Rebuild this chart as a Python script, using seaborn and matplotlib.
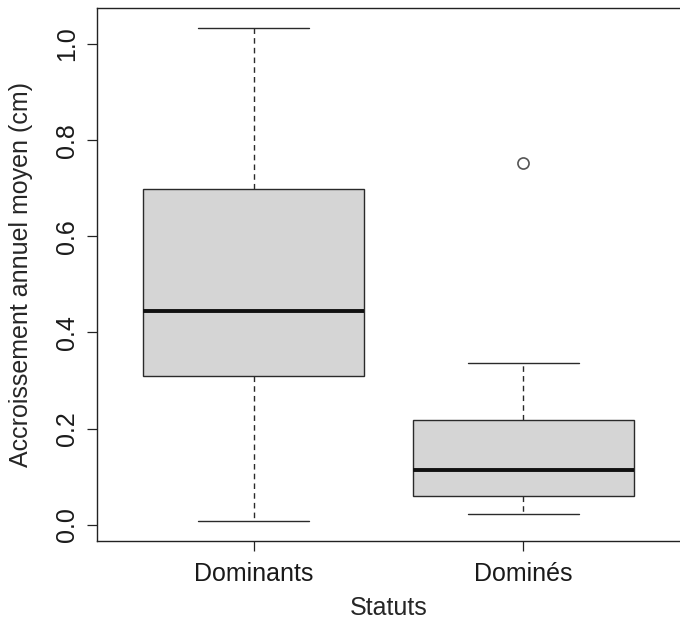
import matplotlib
matplotlib.use("Agg")
import matplotlib.pyplot as plt
import seaborn as sns
import pandas as pd

categories = ["Dominants", "Dominés"]
dominants_values = [0.007, 0.309, 0.444, 0.699, 1.034]
domines_values = [0.023, 0.060, 0.060, 0.114, 0.114, 0.218, 0.218, 0.337, 0.753]
y_ticks = [0.0, 0.2, 0.4, 0.6, 0.8, 1.0]
y_tick_labels = ["0.0", "0.2", "0.4", "0.6", "0.8", "1.0"]
x_label = "Statuts"
y_label = "Accroissement annuel moyen (cm)"

df = pd.DataFrame({
    "Statuts": [categories[0]] * len(dominants_values) + [categories[1]] * len(domines_values),
    "value": dominants_values + domines_values,
})

sns.set_style("ticks")
plt.rcParams["font.family"] = ["Liberation Sans", "DejaVu Sans"]
plt.rcParams["font.size"] = 18

fig = plt.figure(figsize=(6.8, 6.28), dpi=100)
ax = fig.add_axes([97 / 680, 1 - 541 / 628, 1 - 97 / 680, 533 / 628])

edge = "#2a2a2a"
sns.boxplot(
    data=df, x="Statuts", y="value", order=categories, ax=ax,
    color="#d5d5d5", saturation=1, linecolor=edge, linewidth=1.0,
    width=0.82, whis=1.5,
    medianprops=dict(color="#111111", linewidth=2.8),
    whiskerprops=dict(linestyle=(0, (4, 3)), color=edge, linewidth=1.0),
    capprops=dict(color=edge, linewidth=1.0),
    flierprops=dict(marker="o", markerfacecolor="none", markeredgecolor="#555555",
                    markersize=8, markeredgewidth=1.2),
)

ax.set_xlim(-0.58, 1.58)
ax.set_ylim(-0.034, 1.075)
ax.set_yticks(y_ticks)
ax.set_yticklabels(y_tick_labels)
ax.set_xlabel(x_label, fontsize=18)
ax.set_ylabel(y_label, fontsize=18)

ax.tick_params(axis="both", direction="out", length=7, width=0.9, colors="#222222",
               labelsize=18, labelcolor="#1a1a1a")
ax.tick_params(axis="y", pad=6)
ax.tick_params(axis="x", pad=8)
for lab in ax.get_yticklabels():
    lab.set_rotation(90)
    lab.set_va("center")

for s in ["top", "left", "bottom"]:
    ax.spines[s].set_color("#222222")
    ax.spines[s].set_linewidth(1.0)
ax.spines["right"].set_visible(False)

ax.yaxis.set_label_coords(-0.13, 0.5)
ax.yaxis.label.set_va("center")
ax.xaxis.set_label_coords(0.5, -0.125)
ax.xaxis.label.set_va("center")

fig.savefig("out.png", dpi=100)
